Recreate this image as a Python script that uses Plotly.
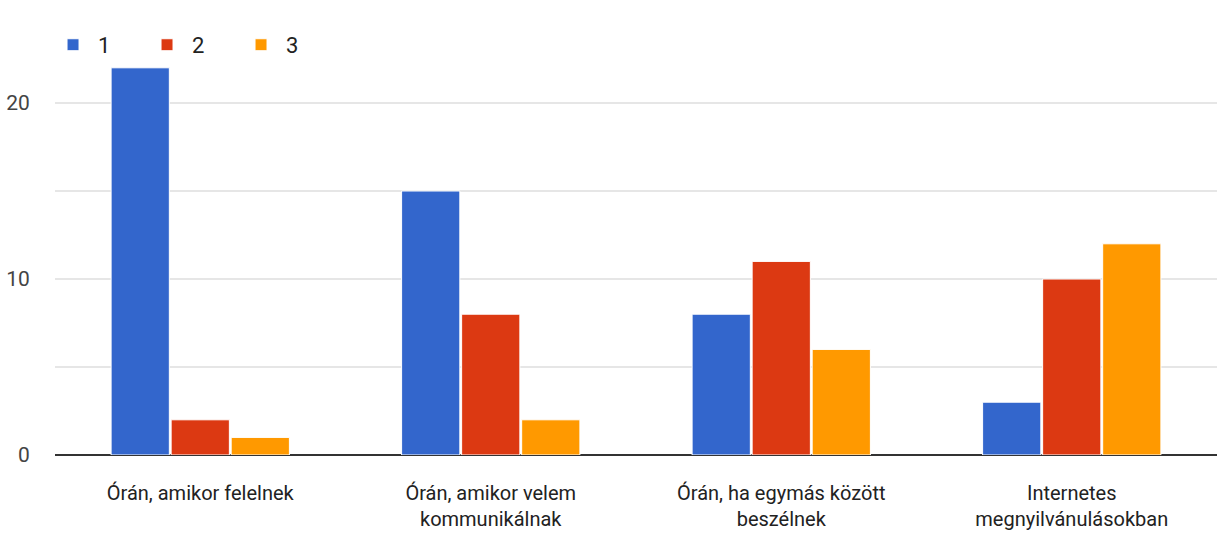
import plotly.graph_objects as go

# Survey answers per situation, split by rating 1 / 2 / 3
categories = [
    "Órán, amikor felelnek",
    "Órán, amikor velem<br>kommunikálnak",
    "Órán, ha egymás között<br>beszélnek",
    "Internetes<br>megnyilvánulásokban",
]
series_names = ["1", "2", "3"]
values_1 = [22, 15, 8, 3]
values_2 = [2, 8, 11, 10]
values_3 = [1, 2, 6, 12]
colors = ["#3366cc", "#dc3912", "#ff9900"]

y_tick_vals = [0, 10, 20]
y_tick_text = ["0", "10", "20"]

FONT = "Roboto, Arial, sans-serif"

fig = go.Figure()
for name, vals, col in zip(series_names, [values_1, values_2, values_3], colors):
    fig.add_trace(go.Bar(
        x=categories, y=vals, name=name,
        marker=dict(color=col, line=dict(color="white", width=1)),
    ))

fig.update_layout(
    width=1221, height=540,
    margin=dict(l=55, r=4, t=15, b=85),
    paper_bgcolor="white", plot_bgcolor="white",
    barmode="group", bargap=0.38, bargroupgap=0.03,
    font=dict(family=FONT, size=20, color="#222222"),
    showlegend=True,
    legend=dict(
        orientation="h", x=-0.006, xanchor="left", y=0.932, yanchor="middle",
        entrywidth=39, entrywidthmode="pixels", itemwidth=40,
        font=dict(family=FONT, size=22, color="#222222"),
        bgcolor="rgba(0,0,0,0)", traceorder="normal",
    ),
    xaxis=dict(
        showgrid=False, showline=False, zeroline=False,
        ticks="outside", ticklen=20, tickcolor="rgba(0,0,0,0)",
        tickfont=dict(family=FONT, size=20, color="#222222"),
    ),
    yaxis=dict(
        range=[0, 25], tickvals=y_tick_vals, ticktext=y_tick_text,
        showgrid=True, gridcolor="#e6e6e6", gridwidth=2,
        zeroline=True, zerolinecolor="#333333", zerolinewidth=2,
        showline=False,
        ticks="outside", ticklen=20, tickcolor="rgba(0,0,0,0)",
        tickfont=dict(family=FONT, size=21, color="#444444"),
        minor=dict(tickvals=[5, 15, 25], showgrid=True, gridcolor="#e6e6e6", gridwidth=2),
    ),
)

fig.write_html("out.html")
